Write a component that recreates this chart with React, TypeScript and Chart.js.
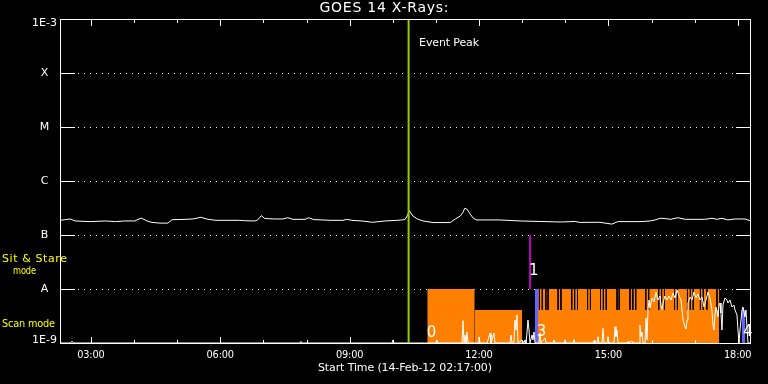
import React, { useEffect, useRef } from "react";
import { Chart, registerables } from "chart.js";

Chart.register(...registerables);

// ---------- axes (x = minutes after 02:17:00) ----------
const xStartMin = 0;
const xEndMin = 960;
const xTickMinutes = [43, 223, 403, 583, 763, 943];
const xTickLabels = ["03:00", "06:00", "09:00", "12:00", "15:00", "18:00"];
const xHourMinutes = [43, 103, 163, 223, 283, 343, 403, 463, 523, 583, 643, 703, 763, 823, 883, 943];
const yTickValues = [1e-9, 1e-8, 1e-7, 1e-6, 1e-5, 1e-4, 1e-3];
const yTickLabels = ["1E-9", "A", "B", "C", "M", "X", "1E-3"];

const titleText = "GOES 14 X-Rays:";
const xTitleText = "Start Time (14-Feb-12 02:17:00)";
const eventText = "Event Peak";
const stareModeText = ["Sit & Stare", "mode"];
const scanModeText = "Scan mode";

// ---------- GOES 14 flux ----------
const goesMin = [
  0, 8, 14, 21, 42, 63, 77, 90, 104, 113,
  121, 128, 139, 150, 156, 174, 185, 196, 206, 217,
  250, 257, 271, 275, 280, 285, 299, 310, 317, 324,
  341, 346, 353, 376, 394, 399, 406, 420, 435, 452,
  470, 480, 483, 486, 491, 497, 505, 519, 543, 550,
  557, 561, 563, 566, 570, 575, 580, 612, 640, 668,
  696, 717, 723, 751, 768, 776, 807, 821, 828, 835,
  842, 849, 860, 870, 897, 907, 914, 921, 929, 939,
  953, 960,
];
const goesFlux = [
  1.87e-7, 1.93e-7, 1.98e-7, 1.82e-7, 1.77e-7, 1.82e-7, 1.77e-7, 1.82e-7, 1.82e-7, 2.06e-7,
  1.82e-7, 1.71e-7, 1.66e-7, 1.66e-7, 1.92e-7, 1.95e-7, 1.98e-7, 2.13e-7, 1.95e-7, 1.87e-7,
  1.87e-7, 1.84e-7, 1.82e-7, 1.9e-7, 2.28e-7, 2.02e-7, 1.98e-7, 1.98e-7, 2.09e-7, 1.95e-7,
  1.95e-7, 2.09e-7, 1.93e-7, 1.87e-7, 1.87e-7, 1.95e-7, 1.87e-7, 1.82e-7, 1.72e-7, 1.82e-7,
  1.87e-7, 1.93e-7, 2.25e-7, 2.82e-7, 2.25e-7, 1.98e-7, 1.82e-7, 1.7e-7, 1.7e-7, 1.98e-7,
  2.25e-7, 2.67e-7, 3.12e-7, 3.03e-7, 2.52e-7, 2.04e-7, 1.9e-7, 1.9e-7, 1.82e-7, 1.78e-7,
  1.74e-7, 1.78e-7, 1.71e-7, 1.72e-7, 1.59e-7, 1.77e-7, 1.77e-7, 1.82e-7, 1.9e-7, 2.04e-7,
  2.02e-7, 1.95e-7, 2.09e-7, 1.95e-7, 1.95e-7, 2.04e-7, 1.95e-7, 2.04e-7, 1.9e-7, 1.98e-7,
  1.98e-7, 1.84e-7,
];

const eventPeakMin = 485;

// ---------- observing modes ----------
const scanStart = [511, 577, 665];
const scanEnd = [577, 643, 917];
const scanLevel = [1e-8, 4.08e-9, 1e-8];

const stripeMin = [
  667, 671, 676, 679, 693, 697, 712, 716, 720, 734,
  738, 752, 756, 760, 775, 778, 793, 797, 801, 815,
  819, 833, 837, 841, 855, 859, 873, 877, 881, 891,
  895, 900, 914,
];
const stripeTop = 1e-8;
const stripeBottom = 4.08e-9;

const stareStart = [660.5, 948.5];
const stareEnd = [665.5, 953.5];
const stareLevel = [1e-8, 4.08e-9];

const pointingMin = 654;
const pointingTop = 1e-7;
const pointingBottom = 1e-8;

const modeNumLabels = ["0", "1", "3", "4"];
const modeNumMin = [517, 659, 670, 957];
const modeNumFlux = [1.53e-9, 2.11e-8, 1.56e-9, 1.56e-9];

// ---------- lower white trace ----------
const countsMin = [
  0, 13.9, 16.7, 19.5, 333.9, 335.3, 336.7, 461.9, 463.3, 464.7,
  523.1, 524.5, 525.9, 559.3, 560.7, 562.1, 563.5, 564.9, 566.3, 567.7,
  581.6, 582.9, 584.3, 594.1, 595.5, 598.3, 599.6, 603.8, 605.2, 626.1,
  627.5, 628.9, 631.6, 633.0, 634.4, 635.8, 637.2, 642.8, 645.6, 647.0,
  648.3, 649.7, 651.1, 652.5, 653.9, 656.7, 658.1, 659.5, 660.9, 666.4,
  667.8, 669.2, 674.8, 676.2, 685.9, 687.3, 688.7, 701.2, 702.6, 704.0,
  713.7, 715.1, 716.5, 741.6, 743.0, 744.3, 747.1, 748.5, 749.9, 754.1,
  755.5, 756.9, 761.0, 762.4, 763.8, 770.8, 772.2, 773.5, 774.9, 776.3,
  788.9, 790.3, 791.6, 795.8, 797.2, 805.6, 806.9, 808.3, 809.7, 811.1,
  813.9, 815.3, 816.7, 818.1, 819.5, 820.9, 823.7, 826.4, 829.2, 832.0,
  834.8, 836.2, 837.6, 839.0, 841.7, 844.5, 847.3, 850.1, 852.9, 855.7,
  858.5, 861.2, 864.0, 865.4, 866.8, 869.6, 871.0, 872.4, 873.7, 876.5,
  879.3, 882.1, 884.9, 887.6, 890.4, 893.2, 896.0, 898.8, 901.6, 904.3,
  907.1, 908.5, 909.9, 911.3, 912.7, 915.5, 916.9, 918.3, 919.6, 921.0,
  922.4, 925.2, 928.0, 929.4, 932.2, 934.9, 937.7, 939.1, 941.9, 943.3,
  944.7, 946.1, 948.9, 950.3, 953.0, 954.4, 955.8, 957.2, 960,
];
const countsFlux = [
  1e-9, 1e-9, 1.07e-9, 1e-9, 1e-9, 1.07e-9, 1e-9, 1e-9, 1.14e-9, 1e-9,
  1e-9, 1.14e-9, 1e-9, 1e-9, 2.59e-9, 1e-9, 1.41e-9, 1e-9, 1.6e-9, 1e-9,
  1e-9, 1.29e-9, 1e-9, 1e-9, 1.14e-9, 1.53e-9, 1e-9, 1.53e-9, 1e-9, 1e-9,
  1.41e-9, 1e-9, 1e-9, 2.67e-9, 1.74e-9, 3.3e-9, 1e-9, 1.14e-9, 1e-9, 1.14e-9,
  1e-9, 1.53e-9, 2.67e-9, 1.74e-9, 1e-9, 1.41e-9, 1.14e-9, 1.6e-9, 1e-9, 1e-9,
  1.53e-9, 1e-9, 1.24e-9, 1e-9, 1e-9, 1.14e-9, 1e-9, 1e-9, 1.14e-9, 1e-9,
  1e-9, 1.16e-9, 1e-9, 1e-9, 1.12e-9, 1e-9, 1e-9, 1.31e-9, 1e-9, 1e-9,
  1.87e-9, 1e-9, 1e-9, 1.31e-9, 1e-9, 1e-9, 2.0e-9, 1.31e-9, 1.74e-9, 1e-9,
  1e-9, 1.06e-9, 1e-9, 1.09e-9, 1e-9, 1e-9, 2.15e-9, 1.31e-9, 1.6e-9, 1e-9,
  1e-9, 2.9e-9, 1.14e-9, 4.08e-9, 6.26e-9, 4.45e-9, 6.81e-9, 5.74e-9, 8.8e-9, 6.26e-9,
  7.42e-9, 5.06e-9, 4.08e-9, 5.5e-9, 7.42e-9, 6.26e-9, 7.42e-9, 6.26e-9, 8.43e-9, 6.81e-9,
  9.58e-9, 7.42e-9, 6.26e-9, 4.08e-9, 2.67e-9, 1.98e-9, 1.82e-9, 2.67e-9, 5.5e-9, 7.11e-9,
  6.26e-9, 8.8e-9, 6.81e-9, 8.08e-9, 6.26e-9, 7.11e-9, 4.64e-9, 6.26e-9, 8.8e-9, 6.81e-9,
  4.08e-9, 2.15e-9, 1.74e-9, 3.3e-9, 4.64e-9, 3.03e-9, 5.06e-9, 5.5e-9, 3.59e-9, 1.74e-9,
  5.06e-9, 6.81e-9, 6.26e-9, 5.5e-9, 6.26e-9, 4.64e-9, 5.06e-9, 4.08e-9, 3.3e-9, 1.74e-9,
  1e-9, 1.74e-9, 4.08e-9, 4.64e-9, 3.03e-9, 4.08e-9, 1.98e-9, 1e-9, 1e-9,
];

// ---------- styles ----------
const WHITE = "#ffffff";
const ORANGE = "#ff8000";
const BLUE = "#6464ff";
const PURPLE = "#c000c0";
const GREEN = "#99cc00";
const YELLOW = "#ffff00";
const FONT = "DejaVu Sans";

// draws text centred at (cx, cy) spanning about w pixels
function fitText(ctx: CanvasRenderingContext2D, text: string, cx: number, cy: number, w: number, size: number) {
  ctx.font = `${size}px "${FONT}"`;
  (ctx as any).letterSpacing = "0px";
  const m = ctx.measureText(text).width;
  const n = Math.max(text.length - 1, 1);
  let ls = (w - m) / n;
  let sx = 1;
  if (ls < -0.2) {
    ls = -0.2;
    sx = w / (m + ls * n);
  }
  if (ls > 2) ls = 2;
  (ctx as any).letterSpacing = `${ls}px`;
  ctx.textAlign = "left";
  ctx.textBaseline = "middle";
  ctx.save();
  ctx.translate(cx - w / 2, cy);
  ctx.scale(sx, 1);
  ctx.fillText(text, 0, 0);
  ctx.restore();
  (ctx as any).letterSpacing = "0px";
}

const decor = {
  id: "decor",
  beforeDraw(chart: any) {
    const { ctx, width, height } = chart;
    ctx.save();
    ctx.fillStyle = "#000";
    ctx.fillRect(0, 0, width, height);
    ctx.restore();
  },
  beforeDatasetsDraw(chart: any) {
    const { ctx, chartArea: a, scales } = chart;
    ctx.save();
    ctx.fillStyle = WHITE;
    yTickValues.slice(1, -1).forEach((v) => {
      const py = Math.round(scales.y.getPixelForValue(v));
      for (let px = a.left + 18; px < a.right - 15; px += 6) ctx.fillRect(px, py, 1, 1);
    });
    ctx.restore();
  },
  afterDatasetsDraw(chart: any) {
    const { ctx, chartArea: a, scales } = chart;
    const xs = scales.x;
    const ys = scales.y;
    ctx.save();
    ctx.strokeStyle = WHITE;
    ctx.fillStyle = WHITE;
    ctx.lineWidth = 1;
    ctx.strokeRect(a.left + 0.5, a.top + 0.5, a.right - a.left, a.bottom - a.top);

    // y ticks + labels
    yTickValues.forEach((v, i) => {
      const py = Math.round(ys.getPixelForValue(v));
      if (i > 0 && i < yTickValues.length - 1) {
        ctx.fillRect(a.left, py, 15, 1);
        ctx.fillRect(a.right - 14, py, 14, 1);
      }
      const ly = Math.min(Math.max(py, a.top + 4), a.bottom - 3);
      ctx.font = `11px "${FONT}"`;
      ctx.textAlign = "center";
      ctx.textBaseline = "middle";
      ctx.fillText(yTickLabels[i], a.left - 15.5, ly + 0.5);
    });

    // x ticks
    xHourMinutes.forEach((m) => {
      const px = Math.round(xs.getPixelForValue(m));
      const len = xTickMinutes.includes(m) ? 6 : 3;
      ctx.fillRect(px, a.top + 1, 1, len);
      ctx.fillRect(px, a.bottom - len, 1, len);
    });
    xTickMinutes.forEach((m, i) => {
      const px = xs.getPixelForValue(m);
      fitText(ctx, xTickLabels[i], px, a.bottom + 12.5, 27.5, 11);
    });
    fitText(ctx, xTitleText, (a.left + a.right) / 2, a.bottom + 25.5, 174, 11);
    fitText(ctx, titleText, chart.width / 2, 8.5, 129, 14);

    // event peak text
    const ex = xs.getPixelForValue(eventPeakMin);
    fitText(ctx, eventText, ex + 40.5, a.top + 24, 60, 11);

    // mode numbers
    ctx.font = `15px "${FONT}"`;
    ctx.textAlign = "center";
    ctx.textBaseline = "middle";
    modeNumLabels.forEach((t, i) => {
      ctx.fillText(t, xs.getPixelForValue(modeNumMin[i]), ys.getPixelForValue(modeNumFlux[i]));
    });

    // yellow mode captions
    ctx.fillStyle = YELLOW;
    fitText(ctx, stareModeText[0], 34.5, 259.5, 65, 11);
    fitText(ctx, stareModeText[1], 24.5, 271.5, 23, 11);
    fitText(ctx, scanModeText, 28.5, 324, 53, 11);
    ctx.restore();
  },
};

export default function App() {
  const ref = useRef<HTMLCanvasElement>(null);
  useEffect(() => {
    const canvas = ref.current!;
    const datasets: any[] = [];
    const base = { pointRadius: 0, tension: 0, spanGaps: false };

    scanStart.forEach((s, i) => {
      datasets.push({
        ...base,
        data: [{ x: s, y: scanLevel[i] }, { x: scanEnd[i], y: scanLevel[i] }],
        borderWidth: 0,
        borderColor: "rgba(0,0,0,0)",
        backgroundColor: ORANGE,
        fill: "start",
        order: 10,
      });
    });

    const stripeData: any[] = [];
    stripeMin.forEach((m) => {
      stripeData.push({ x: m, y: stripeTop }, { x: m, y: stripeBottom }, { x: m, y: null });
    });
    datasets.push({ ...base, data: stripeData, borderColor: "#000", borderWidth: 1, fill: false, order: 9 });

    stareStart.forEach((s, i) => {
      datasets.push({
        ...base,
        data: [{ x: s, y: stareLevel[i] }, { x: stareEnd[i], y: stareLevel[i] }],
        borderWidth: 0,
        borderColor: "rgba(0,0,0,0)",
        backgroundColor: BLUE,
        fill: "start",
        order: 8,
      });
    });

    datasets.push({
      ...base,
      data: countsMin.map((m, i) => ({ x: m, y: countsFlux[i] })),
      borderColor: WHITE,
      borderWidth: 1,
      fill: false,
      order: 6,
    });

    datasets.push({
      ...base,
      data: goesMin.map((m, i) => ({ x: m, y: goesFlux[i] })),
      borderColor: WHITE,
      borderWidth: 1,
      fill: false,
      order: 5,
    });

    datasets.push({
      ...base,
      data: [{ x: pointingMin, y: pointingTop }, { x: pointingMin, y: pointingBottom }],
      borderColor: PURPLE,
      borderWidth: 2,
      fill: false,
      order: 4,
    });

    datasets.push({
      ...base,
      data: [{ x: eventPeakMin, y: yTickValues[0] }, { x: eventPeakMin, y: yTickValues[yTickValues.length - 1] }],
      borderColor: GREEN,
      borderWidth: 2,
      fill: false,
      order: 3,
    });

    const chart = new Chart(canvas, {
      type: "line",
      data: { datasets },
      options: {
        responsive: false,
        animation: false,
        devicePixelRatio: 1,
        events: [],
        layout: { padding: { left: 60, top: 19, right: 18, bottom: 41 } },
        plugins: { legend: { display: false }, tooltip: { enabled: false }, title: { display: false } },
        scales: {
          x: { type: "linear", min: xStartMin, max: xEndMin, display: false },
          y: { type: "logarithmic", min: yTickValues[0], max: yTickValues[yTickValues.length - 1], display: false },
        },
      } as any,
      plugins: [decor],
    });
    return () => chart.destroy();
  }, []);

  return (
    <div style={{ position: "absolute", left: 0, top: 0, width: 768, height: 384, background: "#000" }}>
      <canvas ref={ref} width={768} height={384} style={{ display: "block", width: 768, height: 384 }} />
    </div>
  );
}
